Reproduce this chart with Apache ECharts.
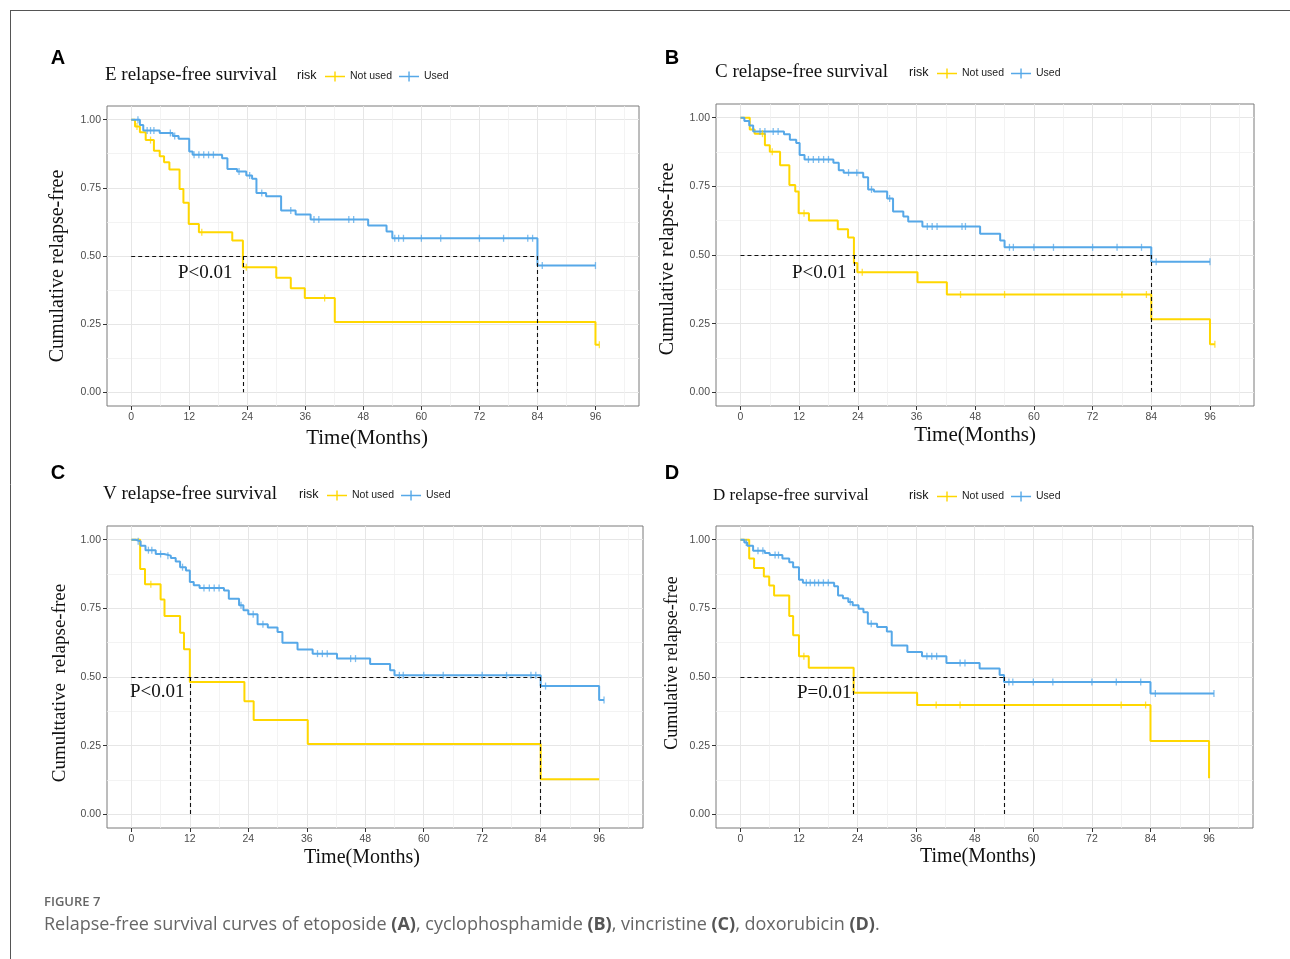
<!DOCTYPE html>
<html>
<head>
<meta charset="utf-8">
<title>Figure 7 relapse-free survival</title>
<script src="https://cdn.jsdelivr.net/npm/echarts@6/dist/echarts.min.js"></script>
<style>
  html, body { margin: 0; padding: 0; background: #fff; }
  #chart { width: 1290px; height: 959px; }
</style>
</head>
<body>
<div id="chart"></div>
<script>
// axis ticks
const monthTicks = [0, 12, 24, 36, 48, 60, 72, 84, 96]
const monthMinor = [6, 18, 30, 42, 54, 66, 78, 90, 102]
const survTicks = [0, 0.25, 0.5, 0.75, 1]
const survMinor = [0.125, 0.375, 0.625, 0.875]
const groups = ['Not used', 'Used']

// A: etoposide (E)
const aNotT = [0.8, 1.8, 3.0, 4.7, 5.9, 6.8, 7.9, 10.0, 10.8, 11.9, 14.0, 20.9, 23.1, 30.0, 33.0, 35.9, 42.1, 96.0]
const aNotS = [0.975, 0.954, 0.925, 0.886, 0.866, 0.844, 0.817, 0.746, 0.695, 0.617, 0.587, 0.557, 0.459, 0.420, 0.382, 0.346, 0.258, 0.175]
const aNotCens = [1.2, 4.0, 14.6, 23.8, 40.0, 96.8]
const aNotEnd = 96.8
const aUsedT = [1.8, 2.5, 5.9, 8.6, 9.8, 12.0, 12.7, 18.8, 19.9, 21.9, 23.8, 25.0, 25.9, 27.9, 31.0, 34.0, 37.1, 49.0, 52.8, 54.0, 84.0]
const aUsedS = [0.980, 0.960, 0.951, 0.940, 0.930, 0.883, 0.871, 0.858, 0.819, 0.810, 0.795, 0.783, 0.731, 0.719, 0.667, 0.652, 0.634, 0.612, 0.590, 0.565, 0.465]
const aUsedCens = [1.4, 3.3, 4.0, 4.7, 8.1, 9.0, 13.0, 14.0, 15.0, 16.0, 17.0, 22.3, 24.5, 27.0, 33.0, 37.8, 38.8, 45.0, 46.0, 54.5, 55.3, 56.3, 60, 64, 72, 77, 82, 83, 85, 96]
const aUsedEnd = 96
const aMedians = [23.1, 84]

// B: cyclophosphamide (C)
const bNotT = [1.9, 2.9, 5.0, 6.0, 8.1, 10.0, 11.2, 11.9, 14.0, 19.9, 22.0, 23.2, 23.9, 36.2, 42.2, 84.0, 96.0]
const bNotS = [0.957, 0.942, 0.900, 0.876, 0.827, 0.755, 0.731, 0.652, 0.626, 0.594, 0.564, 0.471, 0.437, 0.401, 0.356, 0.266, 0.175]
const bNotCens = [4.5, 6.5, 13.0, 24.9, 45.0, 54.0, 78.0, 83.0, 97.0]
const bNotEnd = 97
const bUsedT = [0.8, 1.8, 2.6, 8.9, 10.1, 11.4, 12.1, 13.1, 19.0, 20.1, 21.1, 25.1, 26.1, 27.3, 30.0, 31.2, 33.3, 34.3, 37.2, 49.0, 53.1, 54.0, 84.0]
const bUsedS = [0.988, 0.972, 0.950, 0.940, 0.920, 0.908, 0.864, 0.848, 0.836, 0.809, 0.800, 0.783, 0.739, 0.731, 0.706, 0.658, 0.640, 0.622, 0.604, 0.577, 0.553, 0.528, 0.475]
const bUsedCens = [4.0, 5.0, 6.7, 7.7, 13.9, 14.9, 16.0, 17.0, 18.0, 22.1, 23.8, 26.8, 30.5, 38.2, 39.2, 40.2, 45.3, 46.0, 55.0, 55.8, 60, 64, 72, 77, 82, 85, 96]
const bUsedEnd = 96
const bMedians = [23.2, 84]

// C: vincristine (V)
const cNotT = [1.8, 2.8, 6.0, 6.8, 10.0, 10.8, 12.0, 23.2, 25.1, 36.2, 84.0]
const cNotS = [0.893, 0.838, 0.782, 0.722, 0.661, 0.601, 0.482, 0.412, 0.343, 0.256, 0.128]
const cNotCens = [4.0]
const cNotEnd = 96
const cUsedT = [0.9, 1.9, 2.9, 5.0, 6.7, 8.1, 9.1, 10.0, 11.2, 12.0, 12.8, 14.0, 19.0, 20.0, 22.1, 23.0, 24.0, 25.9, 28.0, 30.0, 31.0, 34.1, 37.2, 42.2, 49.0, 53.1, 54.0, 84.0, 96.0]
const cUsedS = [0.994, 0.978, 0.962, 0.948, 0.942, 0.933, 0.921, 0.900, 0.888, 0.846, 0.834, 0.824, 0.815, 0.785, 0.761, 0.743, 0.729, 0.692, 0.680, 0.664, 0.625, 0.600, 0.585, 0.567, 0.547, 0.525, 0.506, 0.467, 0.416]
const cUsedCens = [1.4, 3.5, 4.2, 6.0, 7.5, 10.5, 14.9, 16.0, 17.0, 18.0, 22.5, 25.0, 27.0, 38.2, 39.2, 40.2, 45.0, 46.0, 55.0, 55.8, 60, 64, 72, 77, 82, 83, 85, 97]
const cUsedEnd = 97
const cMedians = [12.0, 84]

// D: doxorubicin (D)
const dNotT = [1.8, 2.8, 4.8, 5.9, 6.9, 10.0, 10.8, 12.0, 14.0, 23.2, 36.2, 84.0, 96.0]
const dNotS = [0.932, 0.897, 0.866, 0.833, 0.797, 0.722, 0.652, 0.576, 0.534, 0.443, 0.398, 0.267, 0.131]
const dNotCens = [13.0, 40.1, 45.0, 78.0, 83.0]
const dNotEnd = 96
const dUsedT = [0.8, 1.4, 2.6, 5.0, 6.0, 8.6, 10.0, 10.8, 12.0, 12.8, 19.2, 20.0, 21.0, 22.1, 23.0, 24.2, 25.2, 26.1, 28.0, 30.0, 31.0, 34.2, 37.2, 42.2, 49.0, 53.1, 54.0, 84.0]
const dUsedS = [0.990, 0.978, 0.960, 0.952, 0.944, 0.932, 0.918, 0.900, 0.854, 0.843, 0.831, 0.797, 0.787, 0.773, 0.761, 0.749, 0.736, 0.694, 0.682, 0.666, 0.615, 0.591, 0.576, 0.551, 0.531, 0.507, 0.482, 0.440]
const dUsedCens = [1.2, 3.6, 4.6, 7.1, 7.8, 13.5, 14.3, 15.2, 16.0, 17.0, 18.0, 22.5, 26.8, 38.2, 39.2, 40.2, 45.0, 46.0, 55.0, 55.8, 60, 64, 72, 77, 82, 85, 97]
const dUsedEnd = 97
const dMedians = [23.2, 54]

const colors = { 'Not used': '#FFD700', 'Used': '#56A8E8' }
const serif = 'Liberation Serif'
const sans = 'Liberation Sans'

// layout per panel
const panels = [
  {
    letter: 'A', letterPos: [58, 58],
    grid: { left: 107, top: 106, width: 532, height: 300 },
    title: 'E relapse-free survival', titlePos: [105, 75], titleSize: 19,
    riskPos: [297, 76], legendPos: [325, 71],
    yTitle: 'Cumulative relapse-free', yTitlePos: [58, 266], yTitleSize: 20,
    xTitlePos: [367, 438], xTitleSize: 21,
    pText: 'P<0.01', pPos: [178, 273],
    not: [aNotT, aNotS, aNotCens, aNotEnd], used: [aUsedT, aUsedS, aUsedCens, aUsedEnd], medians: aMedians
  },
  {
    letter: 'B', letterPos: [672, 58],
    grid: { left: 716, top: 104, width: 538, height: 302 },
    title: 'C relapse-free survival', titlePos: [715, 72], titleSize: 19,
    riskPos: [909, 73], legendPos: [937, 68],
    yTitle: 'Cumulative relapse-free', yTitlePos: [668, 259], yTitleSize: 20,
    xTitlePos: [975, 435], xTitleSize: 21,
    pText: 'P<0.01', pPos: [792, 273],
    not: [bNotT, bNotS, bNotCens, bNotEnd], used: [bUsedT, bUsedS, bUsedCens, bUsedEnd], medians: bMedians
  },
  {
    letter: 'C', letterPos: [58, 473],
    grid: { left: 107, top: 526, width: 536, height: 302 },
    title: 'V relapse-free survival', titlePos: [103, 494], titleSize: 19,
    riskPos: [299, 495], legendPos: [327, 490],
    yTitle: 'Cumulttative  relapse-free', yTitlePos: [60, 683], yTitleSize: 19,
    xTitlePos: [362, 858], xTitleSize: 20,
    pText: 'P<0.01', pPos: [130, 692],
    not: [cNotT, cNotS, cNotCens, cNotEnd], used: [cUsedT, cUsedS, cUsedCens, cUsedEnd], medians: cMedians
  },
  {
    letter: 'D', letterPos: [672, 473],
    grid: { left: 716, top: 526, width: 537, height: 302 },
    title: 'D relapse-free survival', titlePos: [713, 496], titleSize: 17,
    riskPos: [909, 496], legendPos: [937, 491],
    yTitle: 'Cumulative relapse-free', yTitlePos: [672, 663], yTitleSize: 18,
    xTitlePos: [978, 857], xTitleSize: 20,
    pText: 'P=0.01', pPos: [797, 693],
    not: [dNotT, dNotS, dNotCens, dNotEnd], used: [dUsedT, dUsedS, dUsedCens, dUsedEnd], medians: dMedians
  }
]

const stepData = (times, survs, end) => {
  const d = [[0, 1]]
  times.forEach((t, i) => d.push([t, survs[i]]))
  d.push([end, survs[survs.length - 1]])
  return d
}

const survAt = (times, survs, t) => {
  let s = 1
  for (let i = 0; i < times.length; i++) {
    if (times[i] <= t) s = survs[i]
  }
  return s
}

const keyIcon = 'path://M0,4.2L20,4.2L20,5.8L0,5.8Z M9.3,0L10.7,0L10.7,10L9.3,10Z'

const grids = []
const xAxes = []
const yAxes = []
const series = []
const legends = []
const graphics = []

panels.forEach((p, i) => {
  grids.push(Object.assign({ show: true, borderColor: '#7a7a7a', borderWidth: 1, backgroundColor: '#fff' }, p.grid))

  // major + minor axes
  xAxes.push({
    type: 'value', gridIndex: i, min: -5, max: 105,
    axisLine: { show: false, onZero: false },
    axisTick: { show: true, customValues: monthTicks, length: 4, lineStyle: { color: '#333' } },
    axisLabel: { customValues: monthTicks, fontSize: 10.5, color: '#4d4d4d', margin: 6, fontFamily: sans },
    splitLine: { show: true, lineStyle: { color: '#e6e6e6', width: 1 } }
  })
  xAxes.push({
    type: 'value', gridIndex: i, min: -5, max: 105,
    axisLine: { show: false, onZero: false },
    axisTick: { show: false, customValues: monthMinor },
    axisLabel: { show: false, customValues: monthMinor },
    splitLine: { show: true, lineStyle: { color: '#f0f0f0', width: 0.8 } }
  })
  yAxes.push({
    type: 'value', gridIndex: i, min: -0.05, max: 1.05,
    axisLine: { show: false, onZero: false },
    axisTick: { show: true, customValues: survTicks, length: 4, lineStyle: { color: '#333' } },
    axisLabel: { customValues: survTicks, fontSize: 10.5, color: '#4d4d4d', margin: 6, fontFamily: sans,
      formatter: v => v.toFixed(2) },
    splitLine: { show: true, lineStyle: { color: '#e6e6e6', width: 1 } }
  })
  yAxes.push({
    type: 'value', gridIndex: i, min: -0.05, max: 1.05,
    axisLine: { show: false, onZero: false },
    axisTick: { show: false, customValues: survMinor },
    axisLabel: { show: false, customValues: survMinor },
    splitLine: { show: true, lineStyle: { color: '#f0f0f0', width: 0.8 } }
  })

  const xi = i * 2
  const yi = i * 2
  const medMax = Math.max(...p.medians)
  const medLines = [[{ coord: [0, 0.5] }, { coord: [medMax, 0.5] }]]
  p.medians.forEach(m => medLines.push([{ coord: [m, 0.5] }, { coord: [m, 0] }]))

  ;[['Not used', p.not], ['Used', p.used]].forEach(([name, arr], gi) => {
    const [times, survs, cens, end] = arr
    series.push({
      name: name, type: 'line', step: 'end',
      xAxisIndex: xi, yAxisIndex: yi,
      data: stepData(times, survs, end),
      showSymbol: false, symbol: 'none', silent: true,
      lineStyle: { color: colors[name], width: 2 },
      itemStyle: { color: colors[name] },
      z: gi === 0 ? 3 : 4,
      markLine: gi === 0 ? {
        silent: true, symbol: ['none', 'none'], label: { show: false },
        lineStyle: { color: '#111', type: [4, 3], width: 1.1 },
        data: medLines
      } : undefined
    })
    series.push({
      name: name + ' censored', type: 'scatter',
      xAxisIndex: xi, yAxisIndex: yi, silent: true,
      symbol: 'rect', symbolSize: [1.3, 7],
      itemStyle: { color: colors[name], opacity: 0.75 },
      data: cens.map(t => [t, survAt(times, survs, t)]),
      z: 5
    })
  })

  legends.push({
    left: p.legendPos[0], top: p.legendPos[1], padding: 0,
    itemWidth: 20, itemHeight: 10, itemGap: 7,
    icon: keyIcon, selectedMode: false, data: groups,
    textStyle: { fontSize: 10.5, color: '#222', fontFamily: sans }
  })

  graphics.push(
    { type: 'text', x: p.letterPos[0], y: p.letterPos[1],
      style: { text: p.letter, font: 'bold 20px ' + sans, fill: '#000', align: 'center', verticalAlign: 'middle' } },
    { type: 'text', x: p.titlePos[0], y: p.titlePos[1],
      style: { text: p.title, font: p.titleSize + 'px ' + serif, fill: '#111', align: 'left', verticalAlign: 'middle' } },
    { type: 'text', x: p.riskPos[0], y: p.riskPos[1],
      style: { text: 'risk', font: '12.5px ' + sans, fill: '#111', align: 'left', verticalAlign: 'middle' } },
    { type: 'text', x: p.yTitlePos[0], y: p.yTitlePos[1], rotation: Math.PI / 2,
      style: { text: p.yTitle, font: p.yTitleSize + 'px ' + serif, fill: '#111', align: 'center', verticalAlign: 'middle' } },
    { type: 'text', x: p.xTitlePos[0], y: p.xTitlePos[1],
      style: { text: 'Time(Months)', font: p.xTitleSize + 'px ' + serif, fill: '#111', align: 'center', verticalAlign: 'middle' } },
    { type: 'text', x: p.pPos[0], y: p.pPos[1], z: 10,
      style: { text: p.pText, font: '19px ' + serif, fill: '#111', align: 'left', verticalAlign: 'middle' } }
  )
})

// figure frame and caption
graphics.push(
  { type: 'line', shape: { x1: 10, y1: 10.5, x2: 1290, y2: 10.5 }, style: { stroke: '#555', lineWidth: 1 } },
  { type: 'line', shape: { x1: 10.5, y1: 10, x2: 10.5, y2: 959 }, style: { stroke: '#555', lineWidth: 1 } },
  { type: 'text', x: 44, y: 902,
    style: { text: 'FIGURE 7', font: '600 13px "Open Sans"', fill: '#666', align: 'left', verticalAlign: 'middle' } },
  { type: 'text', x: 44, y: 925,
    style: {
      text: 'Relapse-free survival curves of etoposide {b|(A)}, cyclophosphamide {b|(B)}, vincristine {b|(C)}, doxorubicin {b|(D)}.',
      font: '18px "Open Sans"', fill: '#666', align: 'left', verticalAlign: 'middle',
      rich: { b: { fontFamily: 'Open Sans', fontSize: 18, fontWeight: 'bold', fill: '#555', color: '#555' } }
    } }
)

const chart = echarts.init(document.getElementById('chart'), null, { renderer: 'canvas' })
chart.setOption({
  animation: false,
  backgroundColor: '#fff',
  grid: grids,
  xAxis: xAxes,
  yAxis: yAxes,
  legend: legends,
  series: series,
  graphic: graphics
})
</script>
</body>
</html>
